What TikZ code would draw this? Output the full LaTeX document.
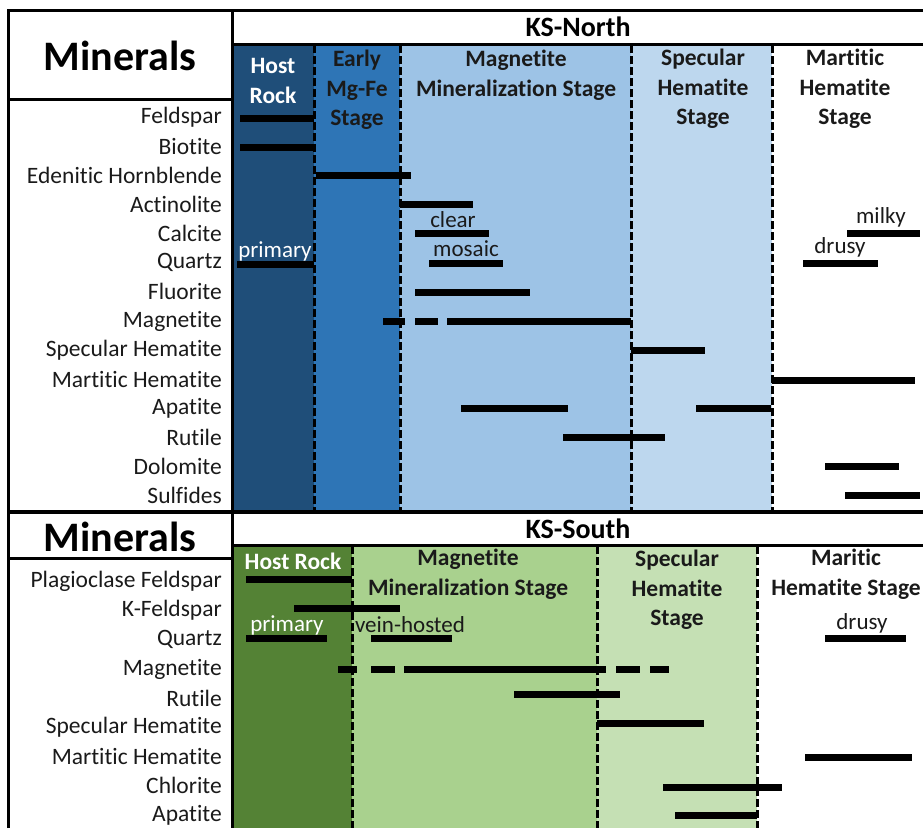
\documentclass[tikz,border=0pt]{standalone}
\usepackage{fontspec}
\setmainfont[Ligatures=NoCommon]{Carlito}
\usetikzlibrary{positioning}
\definecolor{hostblue}{HTML}{1F4E79}
\definecolor{earlyblue}{HTML}{2E75B6}
\definecolor{magblue}{HTML}{9DC3E6}
\definecolor{specblue}{HTML}{BDD7EE}
\definecolor{hostgreen}{HTML}{548235}
\definecolor{maggreen}{HTML}{A9D18E}
\definecolor{specgreen}{HTML}{C5E0B4}
\definecolor{inkblack}{HTML}{1A1A1A}
\tikzset{
  frame/.style={line width=3pt,black},
  stageline/.style={draw=black,line width=3pt,dash pattern=on 8pt off 3pt},
  bar/.style={line width=7pt,black},
  rowlabel/.style={anchor=east,inner sep=0pt,text=inkblack,font=\fontsize{23.5}{23.5}\selectfont},
  stagehead/.style={align=center,inner sep=0pt,text=inkblack,font=\bfseries\fontsize{23.5}{29.5}\selectfont},
  note/.style={inner sep=0pt,text=inkblack,font=\fontsize{23}{23}\selectfont},
}

\begin{document}
\begin{tikzpicture}[x=1pt,y=-1pt]
  \useasboundingbox (0,0) rectangle (923,828);

  % KS-North stages
  \foreach \xa/\xb/\col in {233/314/hostblue,314/400/earlyblue,400/631/magblue,631/772/specblue}
  {
   \fill[\col] (\xa,45) rectangle (\xb,510);
  }
  % KS-South stages
  \foreach \xa/\xb/\col in {233/352/hostgreen,352/597/maggreen,597/757/specgreen}
  {
   \fill[\col] (\xa,546) rectangle (\xb,828);
  }
  \foreach \xd in {314,400,631,772} \path[stageline] (\xd,45) -- (\xd,510);
  \foreach \xd in {352,597,757} \path[stageline] (\xd,546) -- (\xd,828);

  % frame
  \draw[frame] (8,828) -- (8,10) -- (923,10);
  \draw[frame] (232,10) -- (232,828);
  \draw[frame] (8,99) -- (232,99);
  \draw[frame] (232,44.5) -- (923,44.5);
  \draw[frame,line width=4pt] (8,511.5) -- (923,511.5);
  \draw[frame] (8,558) -- (232,558);
  \draw[frame] (232,545) -- (923,545);

  % titles
  \node[inner sep=0pt,font=\bfseries\fontsize{42}{42}\selectfont] (minN) at (120,56) {Minerals};
  \node[inner sep=0pt,font=\bfseries\fontsize{42}{42}\selectfont] (minS) at (120,537) {Minerals};
  \node[inner sep=0pt,font=\bfseries\fontsize{28}{28}\selectfont] (ksN) at (578,27) {KS-North};
  \node[inner sep=0pt,font=\bfseries\fontsize{28}{28}\selectfont] (ksS) at (578,529) {KS-South};

  % stage headers
  \node[stagehead,text=white] (hostN) at (273,81) {Host\\Rock};
  \node[stagehead] (earlyN) at (357,90) {Early\\Mg-Fe\\Stage};
  \node[stagehead] (magN) at (516,75) {Magnetite\\Mineralization Stage};
  \node[stagehead] (specN) at (703,89) {Specular\\Hematite\\Stage};
  \node[stagehead] (martN) at (845,89) {Martitic\\Hematite\\Stage};
  \node[stagehead,text=white] (hostS) at (293,561) {Host Rock};
  \node[stagehead] (magS) at (468,574) {Magnetite\\Mineralization Stage};
  \node[stagehead] (specS) at (677,590) {Specular\\Hematite\\Stage};
  \node[stagehead] (martS) at (846,574) {Maritic\\Hematite Stage};

  % mineral rows
  \foreach \yy/\name in {117/Feldspar,146/Biotite,175/Edenitic Hornblende,204/Actinolite,233/Calcite,262/Quartz,291/Fluorite,321/Magnetite,350/Specular Hematite,379/Martitic Hematite,408/Apatite,437/Rutile,466/Dolomite,495/Sulfides}
  {
   \node[rowlabel] (rowN-\yy) at (222,\yy) {\name};
  }
  \foreach \yy/\name in {581/Plagioclase Feldspar,610/K-Feldspar,639/Quartz,669/Magnetite,698/Rutile,727/Specular Hematite,756/Martitic Hematite,785/Chlorite,815/Apatite}
  {
   \node[rowlabel] (rowS-\yy) at (222,\yy) {\name};
  }

  % bars KS-North
  \foreach \xa/\xb/\yy in {240/314/118,240/314/147,316/411/175,400/473/204,415/489/233,847/920/233,
    237/314/264,429/503/263,803/878/263,415/530/292,383/405/321,415/438/321,447/631/321,
    631/705/350,772/915/380,461/568/408,696/771/408,563/665/437,825/899/466,845/920/495}
  {
   \draw[bar] (\xa,\yy) -- (\xb,\yy);
  }
  % bars KS-South
  \foreach \xa/\xb/\yy in {246/352/579,294/400/608,246/327/638,371/452/638,825/906/638,
    338/357/669,371/395/669,404/606/669,616/640/669,650/669/669,514/620/694,597/704/723,
    805/912/757,663/782/787,675/757/815}
  {
   \draw[bar] (\xa,\yy) -- (\xb,\yy);
  }

  % varieties
  \node[note,text=white] (primN) at (275,251) {primary};
  \node[note] (clear) at (453,220) {clear};
  \node[note] (mosaic) at (466,249) {mosaic};
  \node[note] (milky) at (881,217) {milky};
  \node[note] (drusyN) at (840,247) {drusy};
  \node[note,text=white] (primS) at (287,625) {primary};
  \node[note] (vein) at (410,625) {vein-hosted};
  \node[note] (drusyS) at (862,623) {drusy};

\end{tikzpicture}
\end{document}
